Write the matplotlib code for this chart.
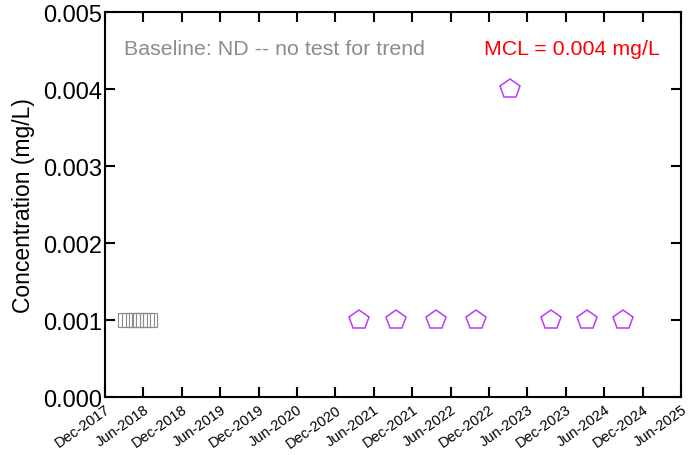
import matplotlib
matplotlib.use("Agg")
import matplotlib.pyplot as plt
import numpy as np
import pandas as pd

plt.rcParams['font.family'] = ['Liberation Sans', 'DejaVu Sans']

# baseline samples (non-detect, plotted at reporting limit)
base_dates = pd.to_datetime(["2018-03-08", "2018-03-25", "2018-04-11", "2018-04-28",
                             "2018-05-15", "2018-06-01", "2018-06-18", "2018-07-04"])
base_conc = [0.001, 0.001, 0.001, 0.001, 0.001, 0.001, 0.001, 0.001]

# compliance samples
samp_dates = pd.to_datetime(["2021-03-24", "2021-09-15", "2022-03-24", "2022-09-28",
                             "2023-03-11", "2023-09-24", "2024-03-12", "2024-08-28"])
samp_conc = [0.001, 0.001, 0.001, 0.001, 0.004, 0.001, 0.001, 0.001]

tick_dates = pd.date_range("2017-12-01", "2025-06-01", freq="6MS")
tick_labels = [d.strftime("%b-%Y") for d in tick_dates]

fig = plt.figure(figsize=(7, 4.56), dpi=100)
ax = fig.add_axes([0.15, 0.127, 0.8229, 0.844])

ax.plot(base_dates, base_conc, linestyle="none", marker="s", markersize=10,
        markerfacecolor="none", markeredgecolor="#8c8c8c", markeredgewidth=0.8)
ax.plot(samp_dates, samp_conc, linestyle="none", marker="p", markersize=15,
        markerfacecolor="none", markeredgecolor="#b43cff", markeredgewidth=1.1)

ax.set_xlim(tick_dates[0], tick_dates[-1])
ax.set_ylim(0, 0.005)
ax.set_yticks(np.arange(0, 0.0051, 0.001))
ax.yaxis.set_major_formatter(matplotlib.ticker.FormatStrFormatter("%.3f"))
ax.set_xticks(tick_dates)
ax.set_xticklabels(tick_labels, rotation=35, ha="right", rotation_mode="anchor", fontsize=10.5)
ax.tick_params(axis="both", direction="in", top=True, right=True, length=7, width=1.5)
ax.tick_params(axis="y", labelsize=17, pad=2)
for s in ax.spines.values():
    s.set_linewidth(1.5)

ax.set_ylabel("Concentration (mg/L)", fontsize=16.5, labelpad=6)

ax.text(0.033, 0.905, "Baseline: ND -- no test for trend", transform=ax.transAxes,
        fontsize=15.4, color="#8c8c8c", va="center", ha="left")
ax.text(0.9635, 0.905, "MCL = 0.004 mg/L", transform=ax.transAxes,
        fontsize=15.4, color="red", va="center", ha="right")

fig.savefig("out.png", dpi=100)
